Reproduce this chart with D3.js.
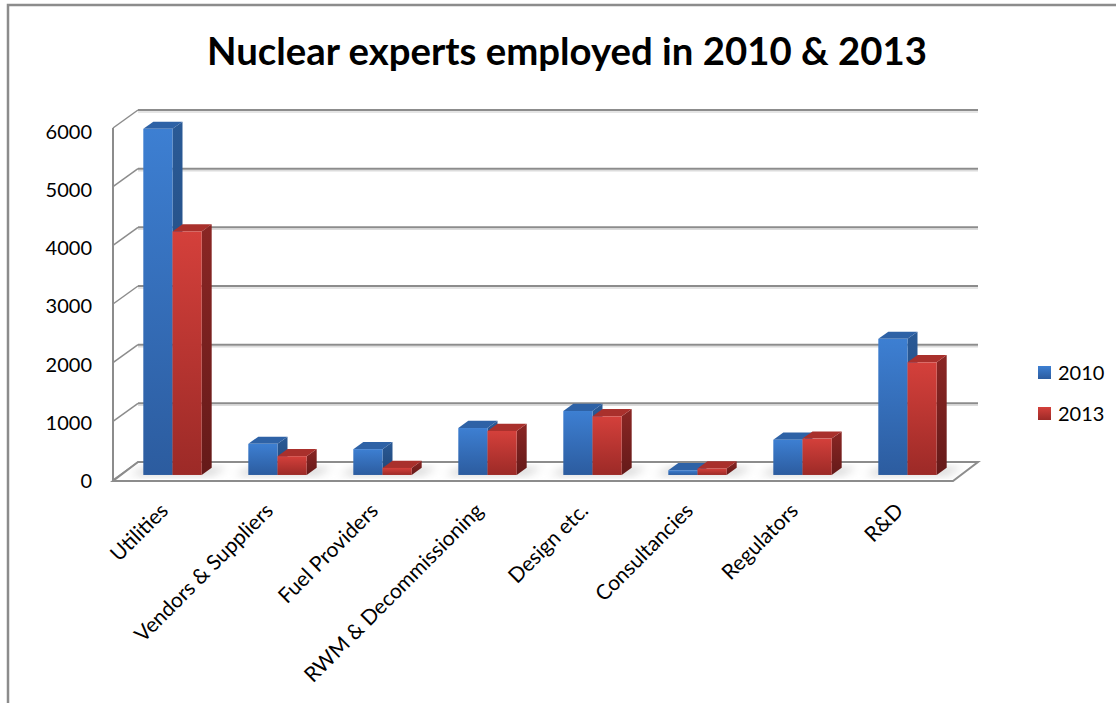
<!DOCTYPE html>
<html><head><meta charset="utf-8">
<script src="https://cdn.jsdelivr.net/npm/d3@7"></script>
<style>body{margin:0;background:#fff}svg{display:block}text{font-family:Lato,"Open Sans",sans-serif;fill:#000}</style>
</head><body><svg width="1116" height="703"></svg>
<script>
const categories = ["Utilities","Vendors & Suppliers","Fuel Providers","RWM & Decommissioning","Design etc.","Consultancies","Regulators","R&D"];
const seriesNames = ["2010","2013"];
const values2010 = [5900, 530, 440, 800, 1090, 80, 600, 2320];
const values2013 = [4150, 320, 120, 750, 1000, 110, 620, 1920];
const yTicks = [0,1000,2000,3000,4000,5000,6000];
const titleText = "Nuclear experts employed in 2010 & 2013";

const svg = d3.select("svg");
const L=113, R=953, Y0=480, YT=128, DX=25, DY=-18;
const F0=0.28, F1=0.68;
const x0 = d3.scaleBand().domain(categories).range([L,R]);
const bw = x0.bandwidth();
const x1 = d3.scaleBand().domain(seriesNames).range([bw*0.222, bw*0.778]);
const y = d3.scaleLinear().domain([0,6000]).range([Y0,YT]);
const yLab = d3.scaleLinear().domain([0,6000]).range([Y0+1,YT+4]);

const defs = svg.append("defs");
const pal = {
  "2010":{front:["#3d7fd2","#2c5c9f"], side:["#2a5a96","#1f4577"], top:"#2e62a6"},
  "2013":{front:["#d4403b","#9c2a27"], side:["#8a2624","#651a19"], top:"#a9302c"}
};
seriesNames.forEach((s,i)=>{
  ["front","side"].forEach(f=>{
    const g = defs.append("linearGradient").attr("id",`g${i}${f}`).attr("x1",0).attr("y1",0).attr("x2",0).attr("y2",1);
    g.append("stop").attr("offset","0%").attr("stop-color",pal[s][f][0]);
    g.append("stop").attr("offset","100%").attr("stop-color",pal[s][f][1]);
  });
});
const lg = defs.append("linearGradient").attr("id","lg0").attr("x1",0).attr("y1",0).attr("x2",0).attr("y2",1);
lg.append("stop").attr("offset","0%").attr("stop-color","#3d7fd2");
lg.append("stop").attr("offset","100%").attr("stop-color","#2c5c9f");
const lg1 = defs.append("linearGradient").attr("id","lg1").attr("x1",0).attr("y1",0).attr("x2",0).attr("y2",1);
lg1.append("stop").attr("offset","0%").attr("stop-color","#d4403b");
lg1.append("stop").attr("offset","100%").attr("stop-color","#9c2a27");
const blur = defs.append("filter").attr("id","blur").attr("x","-50%").attr("y","-50%").attr("width","200%").attr("height","200%");
blur.append("feGaussianBlur").attr("stdDeviation",4);

// outer frame
svg.append("rect").attr("x",8).attr("y",5).attr("width",1300).attr("height",900)
  .attr("fill","none").attr("stroke","#8c8c8c").attr("stroke-width",2.5);

// title
const title = svg.append("text").attr("x",567).attr("y",65).attr("text-anchor","middle")
  .attr("font-weight","bold").attr("font-size",38).text(titleText);
title.attr("textLength",720).attr("lengthAdjust","spacingAndGlyphs");

// floor
const floorPts = [[L,Y0+1],[R,Y0+1],[R+DX,Y0+DY],[L+DX,Y0+DY]];
svg.append("polygon").attr("points",floorPts.map(p=>p.join(",")).join(" "))
  .attr("fill","#fff").attr("stroke","#8c8c8c").attr("stroke-width",2);

// floor shadows
const shadowG = svg.append("g").attr("filter","url(#blur)");
categories.forEach((c,ci)=>{
  const xs = x0(c) + x1(seriesNames[0]);
  const xe = x0(c) + x1(seriesNames[1]) + x1.bandwidth();
  const pts = [[xs+DX*F0-14, Y0+DY*F0],[xe+DX*F0+10,Y0+DY*F0],[xe+DX*F1+16,Y0+DY*F1],[xs+DX*F1-8,Y0+DY*F1]];
  shadowG.append("polygon").attr("points",pts.map(p=>p.join(",")).join(" ")).attr("fill","#bdbdbd").attr("opacity",0.7);
});

// gridlines on back wall + left wall
const grid = svg.append("g");
yTicks.forEach(v=>{
  if (v>0) {
    grid.append("line").attr("x1",L+DX).attr("x2",R+DX).attr("y1",y(v)+DY+2).attr("y2",y(v)+DY+2)
      .attr("stroke","#dcdcdc").attr("stroke-width",1.5);
    grid.append("line").attr("x1",L+DX).attr("x2",R+DX).attr("y1",y(v)+DY).attr("y2",y(v)+DY)
      .attr("stroke","#8c8c8c").attr("stroke-width",2);
  }
  grid.append("line").attr("x1",L).attr("x2",L+DX).attr("y1",y(v)).attr("y2",y(v)+DY)
    .attr("stroke","#8c8c8c").attr("stroke-width",1.5);
});
grid.append("line").attr("x1",L).attr("x2",L).attr("y1",y(6000)).attr("y2",y(0)+1)
  .attr("stroke","#8c8c8c").attr("stroke-width",2);

// y labels
const yAxis = d3.axisLeft(yLab).tickValues(yTicks).tickSize(0).tickPadding(0).tickFormat(d3.format("d"));
const ya = svg.append("g").attr("transform",`translate(92,0)`).call(yAxis);
ya.select(".domain").remove();
ya.selectAll("text").attr("font-size",20).attr("font-family","Lato").attr("fill","#000");

// bars
const data = categories.map((c,i)=>({c, vals:[values2010[i], values2013[i]]}));
const barsG = svg.append("g");
data.forEach(d=>{
  seriesNames.forEach((s,si)=>{
    const v = d.vals[si];
    const xl = x0(d.c) + x1(s) + DX*F0;
    const w = x1.bandwidth();
    const yt = y(v) + DY*F0, yb = y(0) + DY*F0;
    const ddx = DX*(F1-F0), ddy = DY*(F1-F0);
    const g = barsG.append("g");
    g.append("polygon").attr("points",[[xl+w,yt],[xl+w+ddx,yt+ddy],[xl+w+ddx,yb+ddy],[xl+w,yb]].map(p=>p.join(",")).join(" "))
      .attr("fill",`url(#g${si}side)`);
    g.append("polygon").attr("points",[[xl,yt],[xl+ddx,yt+ddy],[xl+w+ddx,yt+ddy],[xl+w,yt]].map(p=>p.join(",")).join(" "))
      .attr("fill",pal[s].top);
    g.append("rect").attr("x",xl).attr("y",yt).attr("width",w).attr("height",yb-yt)
      .attr("fill",`url(#g${si}front)`);
  });
});

// category labels
const catG = svg.append("g");
categories.forEach(c=>{
  const cx = x0(c) + bw/2 + DX*F0 - 3;
  catG.append("text").attr("transform",`translate(${cx},512) rotate(-45)`)
    .attr("text-anchor","end").attr("font-size",21).text(c);
});

// legend
const leg = svg.append("g");
seriesNames.forEach((s,i)=>{
  leg.append("rect").attr("x",1038).attr("y",366+i*41).attr("width",13).attr("height",13).attr("fill",`url(#lg${i})`);
  leg.append("text").attr("x",1058).attr("y",380+i*41).attr("font-size",20).text(s);
});
</script></body></html>
